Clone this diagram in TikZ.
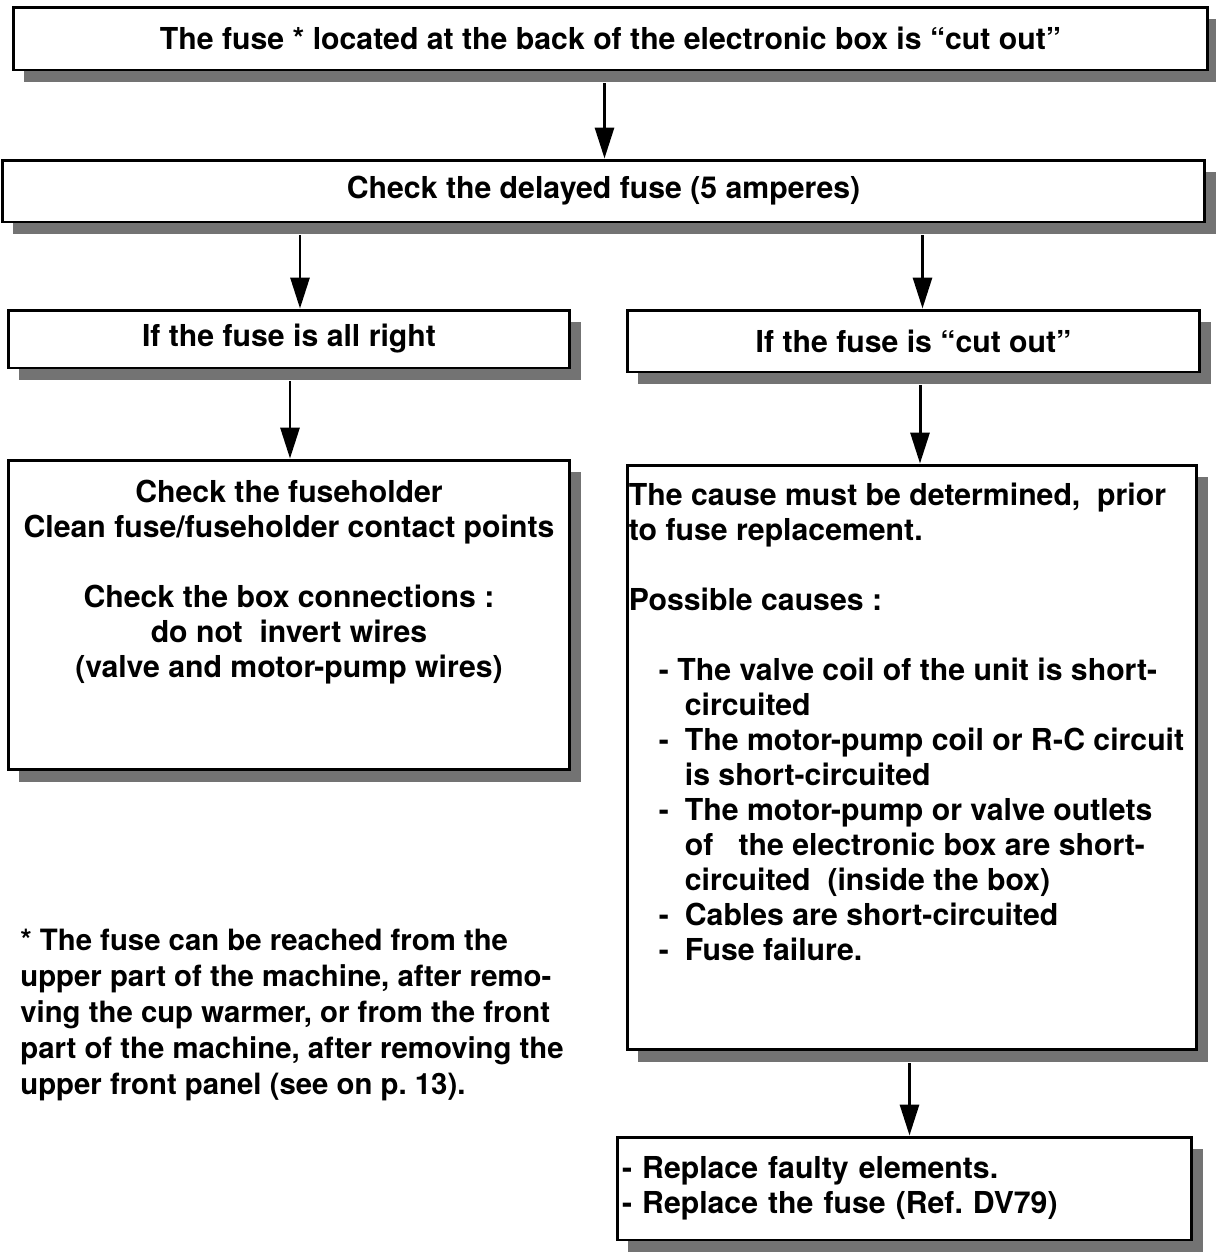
\documentclass[tikz,border=0pt]{standalone}
\usepackage{fontspec}
\setmainfont{TeX Gyre Heros}
\usetikzlibrary{arrows.meta,positioning,calc,shadows}
\frenchspacing
\newcommand{\boxfont}{\fontsize{17.2}{19.9}\selectfont\bfseries}
\newcommand{\notefont}{\fontsize{16.7}{20.5}\selectfont\bfseries}
\newcommand{\dashitem}[1]{\hspace*{0.6cm}\makebox[0.52cm][l]{-}#1}
\newcommand{\contline}[1]{\hspace*{1.12cm}#1}
\tikzset{
  % Shadowed step boxes
  stepbox/.style={draw=black,line width=1.7pt,fill=white,align=center,
                  inner sep=0pt,font=\boxfont,
                  drop shadow={shadow xshift=2.2mm,shadow yshift=-2.4mm,
                               fill=black!55,opacity=1}},
  % Free text
  txt/.style={font=\boxfont,inner sep=0pt,align=left},
  % Connectors
  fl/.style={-{Triangle[length=6.2mm,width=3.8mm]},line width=1.7pt}
}
\begin{document}
\begin{tikzpicture}[x=0.02cm,y=-0.02cm]
  \useasboundingbox (0,0) rectangle (1216,1255);

  % --- Nodes ---
  \node[stepbox,minimum width=23.9cm,minimum height=1.26cm] (b1) at (610.5,38.5)
       {The fuse * located at the back of the electronic box is “cut out”};
  \node[stepbox,minimum width=24.06cm,minimum height=1.24cm] (b2) at (603.5,191)
       {Check the delayed fuse (5 amperes)};

  \node[stepbox,minimum width=11.24cm,minimum height=1.16cm] (b3) at (289,339)
       {If the fuse is all right};
  \node[stepbox,minimum width=11.46cm,minimum height=1.24cm] (b4) at (913.5,341)
       {If the fuse is “cut out”};

  \node[stepbox,minimum width=11.24cm,minimum height=6.2cm] (b5) at (289,615) {};
  \node[txt,align=center,anchor=north] (t5) at ($(b5.north)+(0,21)$)
       {Check the fuseholder\\Clean fuse/fuseholder contact points\\[0.7cm]
        Check the box connections :\\do not\ \ invert wires\\(valve and motor-pump wires)};

  \node[stepbox,minimum width=11.4cm,minimum height=11.7cm] (b6) at (912,757.5) {};
  \node[txt,anchor=north west] (t6) at ($(b6.north west)+(3,19)$)
       {The cause must be determined,\ \ prior\\to fuse replacement.\\[0.7cm]
        Possible causes :\\[0.7cm]
        \hspace*{0.6cm}- The valve coil of the unit is short-\\
        \contline{circuited}\\
        \dashitem{The motor-pump coil or R-C circuit}\\
        \contline{is short-circuited}\\
        \dashitem{The motor-pump or valve outlets}\\
        \contline{of\ \ \ the electronic box are short-}\\
        \contline{circuited\ \ (inside the box)}\\
        \dashitem{Cables are short-circuited}\\
        \dashitem{Fuse failure.}};

  \node[stepbox,align=left,inner xsep=0.1cm,text width=11.3cm,minimum height=2.06cm]
       (b7) at (904.5,1188.5)
       {- Replace faulty elements.\\- Replace the fuse (Ref. DV79)};

  \node[txt,font=\notefont,anchor=north west] (note) at (20,929)
       {* The fuse can be reached from the\\upper part of the machine, after remo-\\
        ving the cup warmer, or from the front\\part of the machine, after removing the\\
        upper front panel (see on p. 13).};

  % --- Connectors ---
  \draw[fl] ($(b1.south -| b2.north)+(1,12)$) -- ($(b2.north)+(1,0)$);
  \draw[fl] ($(b2.south -| b3.north)+(11,12)$) -- ($(b3.north)+(11,0)$);
  \draw[fl] ($(b2.south -| b4.north)+(9,12)$) -- ($(b4.north)+(9,0)$);
  \draw[fl] ($(b3.south)+(1,12)$) -- ($(b5.north)+(1,0)$);
  \draw[fl] ($(b4.south -| b6.north)+(8,12)$) -- ($(b6.north)+(8,0)$);
  \draw[fl] ($(b6.south -| b7.north)+(5,12)$) -- ($(b7.north)+(5,0)$);
\end{tikzpicture}
\end{document}
